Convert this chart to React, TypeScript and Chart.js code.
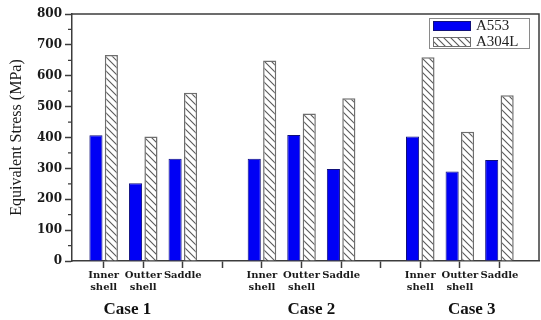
import React, { useEffect, useRef } from 'react';
import { Chart, registerables } from 'chart.js';

Chart.register(...registerables);

// ---- data ----
const caseNames = ['Case 1', 'Case 2', 'Case 3'];
const partNames = ['Inner shell', 'Outter shell', 'Saddle'];
const seriesNames = ['A553', 'A304L'];
const a553Values = [407, 252, 331, 331, 408, 298, 403, 290, 327];
const a304lValues = [667, 403, 545, 649, 478, 527, 660, 419, 537];
const yTickValues = [0, 100, 200, 300, 400, 500, 600, 700, 800];
const yMinorTickValues = [50, 150, 250, 350, 450, 550, 650, 750];
// case label anchor (in x-axis units)
const caseLabelAt = [1.6, 6.25, 10.3];

// x positions: each case occupies 3 slots plus 1 blank slot
const slotPositions: number[] = [];
const slotLabels: Record<number, string[]> = {};
caseNames.forEach((_, c) => {
  partNames.forEach((p, j) => {
    const x = c * 4 + j + 1;
    slotPositions.push(x);
    slotLabels[x] = p.split(' ');
  });
});
const xTickValues = [1, 2, 3, 4, 5, 6, 7, 8, 9, 10, 11];

function makeHatch(): CanvasPattern | string {
  const s = 7;
  const c = document.createElement('canvas');
  c.width = s;
  c.height = s;
  const g = c.getContext('2d');
  if (!g) return '#fff';
  g.fillStyle = '#ffffff';
  g.fillRect(0, 0, s, s);
  g.strokeStyle = '#5a5a5a';
  g.lineWidth = 1.1;
  g.beginPath();
  g.moveTo(-1, -1);
  g.lineTo(s + 1, s + 1);
  g.moveTo(-1, s - 1);
  g.lineTo(1, s + 1);
  g.moveTo(s - 1, -1);
  g.lineTo(s + 1, 1);
  g.stroke();
  return g.createPattern(c, 'repeat') || '#fff';
}

const AXIS_COLOR = '#3c3c3c';

const framePlugin = {
  id: 'frame',
  afterDraw(chart: any) {
    const { ctx, chartArea } = chart;
    const { left, right, top, bottom } = chartArea;
    ctx.save();
    ctx.strokeStyle = AXIS_COLOR;
    ctx.lineWidth = 1.5;
    ctx.beginPath();
    ctx.moveTo(left, top);
    ctx.lineTo(right, top);
    ctx.lineTo(right, bottom);
    ctx.stroke();

    // minor y ticks
    const ys = chart.scales.y;
    ctx.lineWidth = 1.2;
    ctx.beginPath();
    yMinorTickValues.forEach((v) => {
      const py = ys.getPixelForValue(v);
      ctx.moveTo(left - 4, py);
      ctx.lineTo(left, py);
    });
    ctx.stroke();

    // case labels
    const xs = chart.scales.x;
    ctx.fillStyle = '#111';
    ctx.font = 'bold 17px "Liberation Serif", serif';
    ctx.textAlign = 'center';
    ctx.textBaseline = 'middle';
    caseNames.forEach((name, i) => {
      ctx.fillText(name, xs.getPixelForValue(caseLabelAt[i]), bottom + 49);
    });

    // legend
    const boxW = 100;
    const boxH = 30;
    const bx = right - 10 - boxW;
    const by = top + 4;
    ctx.fillStyle = '#fff';
    ctx.fillRect(bx, by, boxW, boxH);
    ctx.strokeStyle = '#8a8a8a';
    ctx.lineWidth = 1;
    ctx.strokeRect(bx + 0.5, by + 0.5, boxW, boxH);
    ctx.font = '15px "Liberation Serif", serif';
    ctx.textAlign = 'left';
    chart.data.datasets.forEach((ds: any, i: number) => {
      const sy = by + 3 + i * 16;
      ctx.fillStyle = ds.backgroundColor;
      ctx.fillRect(bx + 4, sy, 38, 10);
      ctx.strokeStyle = ds.borderColor;
      ctx.lineWidth = 1;
      ctx.strokeRect(bx + 4.5, sy + 0.5, 37, 9);
      ctx.fillStyle = '#222';
      ctx.fillText(ds.label, bx + 47, sy + 5.5);
    });
    ctx.restore();
  },
};

export default function App() {
  const ref = useRef<HTMLCanvasElement | null>(null);

  useEffect(() => {
    document.body.style.margin = '0';
    if (!ref.current) return;
    const hatch = makeHatch();
    const chart = new Chart(ref.current, {
      type: 'bar',
      data: {
        datasets: [
          {
            label: seriesNames[0],
            data: slotPositions.map((x, i) => ({ x, y: a553Values[i] })),
            backgroundColor: '#0000f5',
            borderColor: '#10107a',
            borderWidth: 1,
          },
          {
            label: seriesNames[1],
            data: slotPositions.map((x, i) => ({ x, y: a304lValues[i] })),
            backgroundColor: hatch as any,
            borderColor: '#6e6e6e',
            borderWidth: 1.5,
          },
        ],
      },
      options: {
        responsive: false,
        animation: false,
        categoryPercentage: 0.78,
        barPercentage: 0.85,
        layout: { padding: { top: 14, right: 2, left: 0, bottom: 0 } },
        plugins: {
          legend: { display: false },
          tooltip: { enabled: false },
        },
        scales: {
          x: {
            type: 'linear',
            min: 0.2,
            max: 12,
            offset: false,
            afterBuildTicks: (s: any) => {
              s.ticks = xTickValues.map((v) => ({ value: v }));
            },
            afterFit: (s: any) => {
              s.height = 59;
            },
            grid: {
              display: true,
              offset: false,
              drawOnChartArea: false,
              drawTicks: true,
              tickLength: 7,
              tickColor: AXIS_COLOR,
              tickWidth: 1.5,
            },
            border: { display: true, color: AXIS_COLOR, width: 1.5 },
            ticks: {
              autoSkip: false,
              maxRotation: 0,
              padding: 1,
              color: '#1a1a1a',
              font: { family: '"DejaVu Serif", serif', weight: 'bold', size: 10, lineHeight: 1.2 },
              callback: (v: any) => slotLabels[v] || '',
            },
          },
          y: {
            min: 0,
            max: 800,
            afterBuildTicks: (s: any) => {
              s.ticks = yTickValues.map((v) => ({ value: v }));
            },
            afterFit: (s: any) => {
              s.width = 72;
            },
            grid: {
              display: true,
              drawOnChartArea: false,
              drawTicks: true,
              tickLength: 7,
              tickColor: AXIS_COLOR,
              tickWidth: 1.5,
            },
            border: { display: true, color: AXIS_COLOR, width: 1.5 },
            ticks: {
              padding: 3,
              color: '#1a1a1a',
              font: { family: '"DejaVu Serif", serif', weight: 'bold', size: 12 },
            },
            title: {
              display: true,
              text: 'Equivalent Stress (MPa)',
              color: '#1a1a1a',
              font: { family: '"Liberation Serif", serif', size: 16 },
              padding: { top: 7, bottom: 0 },
            },
          },
        },
      },
      plugins: [framePlugin],
    } as any);
    return () => chart.destroy();
  }, []);

  return <canvas ref={ref} width={541} height={320} style={{ display: 'block' }} />;
}
